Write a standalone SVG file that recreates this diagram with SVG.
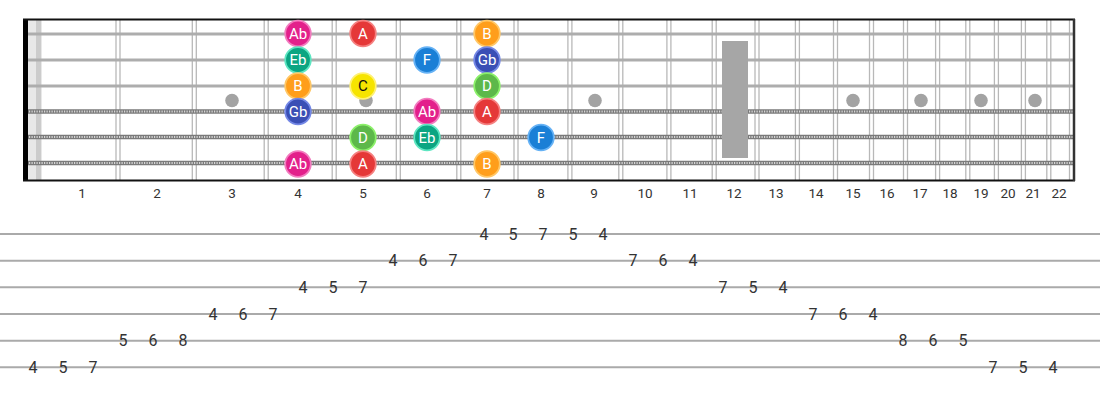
<svg xmlns="http://www.w3.org/2000/svg" width="1100" height="400" viewBox="0 0 1100 400">
<style>
.fret{stroke:#b8b8b8;stroke-width:1.3}
.plain{stroke:#adadad;stroke-width:3}
.woundA{stroke:#7a7a7a;stroke-width:4.5}
.woundB{stroke:#d6d6d6;stroke-width:2.2;stroke-dasharray:1.2 1.3}
.dot{fill:#a3a3a3}
.fn{font-family:Roboto,"Liberation Sans",sans-serif;font-size:13.5px;fill:#333;text-anchor:middle}
.tl{stroke:#aaa;stroke-width:2}
.tn{font-family:Roboto,"Liberation Sans",sans-serif;font-size:16px;fill:#333;text-anchor:middle}
.nt{font-family:Roboto,"Liberation Sans",sans-serif;font-size:15px;fill:#fff;text-anchor:middle}
.nt.dk{fill:#111}
.Ab{fill:#e3208b;stroke:#f27cbf}
.A{fill:#e53838;stroke:#f58080}
.Eb{fill:#0ba582;stroke:#5ee6c2}
.B{fill:#ff9e1b;stroke:#ffc766}
.Gb{fill:#3a4fb5;stroke:#7488e6}
.C{fill:#f6e400;stroke:#fff176}
.F{fill:#1a7fd6;stroke:#66b2f5}
.D{fill:#5db84a;stroke:#8cf06a}
.n{stroke-width:1.8}
</style>
<rect width="1100" height="400" fill="#fff"/>
<g id="fretboard">
<rect x="28" y="20" width="14" height="160" fill="#e8e8e8"/>
<rect x="36" y="20" width="5" height="160" fill="#cccccc"/>
<g id="frets">
<line class="fret" x1="116" y1="20" x2="116" y2="180"/><line class="fret" x1="120" y1="20" x2="120" y2="180"/>
<line class="fret" x1="192.3" y1="20" x2="192.3" y2="180"/><line class="fret" x1="196.3" y1="20" x2="196.3" y2="180"/>
<line class="fret" x1="264.2" y1="20" x2="264.2" y2="180"/><line class="fret" x1="268.2" y1="20" x2="268.2" y2="180"/>
<line class="fret" x1="332.2" y1="20" x2="332.2" y2="180"/><line class="fret" x1="336.2" y1="20" x2="336.2" y2="180"/>
<line class="fret" x1="396.3" y1="20" x2="396.3" y2="180"/><line class="fret" x1="400.3" y1="20" x2="400.3" y2="180"/>
<line class="fret" x1="456.8" y1="20" x2="456.8" y2="180"/><line class="fret" x1="460.8" y1="20" x2="460.8" y2="180"/>
<line class="fret" x1="514" y1="20" x2="514" y2="180"/><line class="fret" x1="518" y1="20" x2="518" y2="180"/>
<line class="fret" x1="567.9" y1="20" x2="567.9" y2="180"/><line class="fret" x1="571.9" y1="20" x2="571.9" y2="180"/>
<line class="fret" x1="618.8" y1="20" x2="618.8" y2="180"/><line class="fret" x1="622.8" y1="20" x2="622.8" y2="180"/>
<line class="fret" x1="666.9" y1="20" x2="666.9" y2="180"/><line class="fret" x1="670.9" y1="20" x2="670.9" y2="180"/>
<line class="fret" x1="712.2" y1="20" x2="712.2" y2="180"/><line class="fret" x1="716.2" y1="20" x2="716.2" y2="180"/>
<line class="fret" x1="755" y1="20" x2="755" y2="180"/><line class="fret" x1="759" y1="20" x2="759" y2="180"/>
<line class="fret" x1="795.4" y1="20" x2="795.4" y2="180"/><line class="fret" x1="799.4" y1="20" x2="799.4" y2="180"/>
<line class="fret" x1="833.5" y1="20" x2="833.5" y2="180"/><line class="fret" x1="837.5" y1="20" x2="837.5" y2="180"/>
<line class="fret" x1="869.5" y1="20" x2="869.5" y2="180"/><line class="fret" x1="873.5" y1="20" x2="873.5" y2="180"/>
<line class="fret" x1="903.5" y1="20" x2="903.5" y2="180"/><line class="fret" x1="907.5" y1="20" x2="907.5" y2="180"/>
<line class="fret" x1="935.6" y1="20" x2="935.6" y2="180"/><line class="fret" x1="939.6" y1="20" x2="939.6" y2="180"/>
<line class="fret" x1="965.8" y1="20" x2="965.8" y2="180"/><line class="fret" x1="969.8" y1="20" x2="969.8" y2="180"/>
<line class="fret" x1="994.4" y1="20" x2="994.4" y2="180"/><line class="fret" x1="998.4" y1="20" x2="998.4" y2="180"/>
<line class="fret" x1="1021.4" y1="20" x2="1021.4" y2="180"/><line class="fret" x1="1025.4" y1="20" x2="1025.4" y2="180"/>
<line class="fret" x1="1046.8" y1="20" x2="1046.8" y2="180"/><line class="fret" x1="1050.8" y1="20" x2="1050.8" y2="180"/>
<line class="fret" x1="1069.5" y1="20" x2="1069.5" y2="180"/>
</g>
<g id="inlays">
<circle class="dot" cx="232" cy="100.5" r="6.8"/>
<circle class="dot" cx="366" cy="100.5" r="6.8"/>
<circle class="dot" cx="595" cy="100.5" r="6.8"/>
<circle class="dot" cx="853" cy="100.5" r="6.8"/>
<circle class="dot" cx="921" cy="100.5" r="6.8"/>
<circle class="dot" cx="981" cy="100.5" r="6.8"/>
<circle class="dot" cx="1035" cy="100.5" r="6.8"/>
</g>
<g id="strings">
<line class="plain" x1="24" y1="34" x2="1074" y2="34"/>
<line class="plain" x1="24" y1="60" x2="1074" y2="60"/>
<line class="plain" x1="24" y1="86" x2="1074" y2="86"/>
<line class="woundA" x1="24" y1="111.5" x2="1074" y2="111.5"/>
<line class="woundB" x1="24" y1="111.5" x2="1074" y2="111.5"/>
<line class="woundA" x1="24" y1="137" x2="1074" y2="137"/>
<line class="woundB" x1="24" y1="137" x2="1074" y2="137"/>
<line class="woundA" x1="24" y1="163" x2="1074" y2="163"/>
<line class="woundB" x1="24" y1="163" x2="1074" y2="163"/>
</g>
<rect x="722" y="41" width="26" height="117" fill="#a6a6a6"/>
<rect x="23" y="19" width="5" height="162" fill="#000"/>
<line x1="23" y1="19.5" x2="1075" y2="19.5" stroke="#111" stroke-width="2"/>
<line x1="23" y1="180.5" x2="1075" y2="180.5" stroke="#111" stroke-width="2"/>
<line x1="1074" y1="19" x2="1074" y2="181" stroke="#333" stroke-width="2.5"/>
</g>
<g id="fret-numbers">
<text class="fn" x="82" y="198">1</text>
<text class="fn" x="157" y="198">2</text>
<text class="fn" x="232" y="198">3</text>
<text class="fn" x="298" y="198">4</text>
<text class="fn" x="363" y="198">5</text>
<text class="fn" x="427" y="198">6</text>
<text class="fn" x="487" y="198">7</text>
<text class="fn" x="541" y="198">8</text>
<text class="fn" x="594" y="198">9</text>
<text class="fn" x="645" y="198">10</text>
<text class="fn" x="690" y="198">11</text>
<text class="fn" x="734" y="198">12</text>
<text class="fn" x="776" y="198">13</text>
<text class="fn" x="816" y="198">14</text>
<text class="fn" x="853" y="198">15</text>
<text class="fn" x="887" y="198">16</text>
<text class="fn" x="920" y="198">17</text>
<text class="fn" x="950" y="198">18</text>
<text class="fn" x="981" y="198">19</text>
<text class="fn" x="1008" y="198">20</text>
<text class="fn" x="1033" y="198">21</text>
<text class="fn" x="1059" y="198">22</text>
</g>
<g id="notes">
<g id="n1-4"><circle class="n Ab" cx="298" cy="33.5" r="12.8"/><text class="nt" x="298" y="38.8">Ab</text></g>
<g id="n1-5"><circle class="n A" cx="363" cy="33.5" r="12.8"/><text class="nt" x="363" y="38.8">A</text></g>
<g id="n1-7"><circle class="n B" cx="487" cy="33.5" r="12.8"/><text class="nt" x="487" y="38.8">B</text></g>
<g id="n2-4"><circle class="n Eb" cx="298" cy="60" r="12.8"/><text class="nt" x="298" y="65.3">Eb</text></g>
<g id="n2-6"><circle class="n F" cx="427" cy="60" r="12.8"/><text class="nt" x="427" y="65.3">F</text></g>
<g id="n2-7"><circle class="n Gb" cx="487" cy="60" r="12.8"/><text class="nt" x="487" y="65.3">Gb</text></g>
<g id="n3-4"><circle class="n B" cx="298" cy="86" r="12.8"/><text class="nt" x="298" y="91.3">B</text></g>
<g id="n3-5"><circle class="n C" cx="363" cy="86" r="12.8"/><text class="nt dk" x="363" y="91.3">C</text></g>
<g id="n3-7"><circle class="n D" cx="487" cy="86" r="12.8"/><text class="nt" x="487" y="91.3">D</text></g>
<g id="n4-4"><circle class="n Gb" cx="298" cy="111.5" r="12.8"/><text class="nt" x="298" y="116.8">Gb</text></g>
<g id="n4-6"><circle class="n Ab" cx="427" cy="111.5" r="12.8"/><text class="nt" x="427" y="116.8">Ab</text></g>
<g id="n4-7"><circle class="n A" cx="487" cy="111.5" r="12.8"/><text class="nt" x="487" y="116.8">A</text></g>
<g id="n5-5"><circle class="n D" cx="363" cy="137.5" r="12.8"/><text class="nt" x="363" y="142.8">D</text></g>
<g id="n5-6"><circle class="n Eb" cx="427" cy="137.5" r="12.8"/><text class="nt" x="427" y="142.8">Eb</text></g>
<g id="n5-8"><circle class="n F" cx="541" cy="137.5" r="12.8"/><text class="nt" x="541" y="142.8">F</text></g>
<g id="n6-4"><circle class="n Ab" cx="298" cy="164" r="12.8"/><text class="nt" x="298" y="169.3">Ab</text></g>
<g id="n6-5"><circle class="n A" cx="363" cy="164" r="12.8"/><text class="nt" x="363" y="169.3">A</text></g>
<g id="n6-7"><circle class="n B" cx="487" cy="164" r="12.8"/><text class="nt" x="487" y="169.3">B</text></g>
</g>
<g id="tab-lines">
<line class="tl" x1="0" y1="234" x2="1100" y2="234"/>
<line class="tl" x1="0" y1="260.7" x2="1100" y2="260.7"/>
<line class="tl" x1="0" y1="287.3" x2="1100" y2="287.3"/>
<line class="tl" x1="0" y1="314" x2="1100" y2="314"/>
<line class="tl" x1="0" y1="340.7" x2="1100" y2="340.7"/>
<line class="tl" x1="0" y1="367.3" x2="1100" y2="367.3"/>
</g>
<g id="tab-numbers">
<text class="tn" x="484" y="239.7">4</text><text class="tn" x="513" y="239.7">5</text><text class="tn" x="543" y="239.7">7</text><text class="tn" x="573" y="239.7">5</text><text class="tn" x="603" y="239.7">4</text>
<text class="tn" x="393" y="266.4">4</text><text class="tn" x="423" y="266.4">6</text><text class="tn" x="453" y="266.4">7</text><text class="tn" x="633" y="266.4">7</text><text class="tn" x="663" y="266.4">6</text><text class="tn" x="693" y="266.4">4</text>
<text class="tn" x="303" y="293">4</text><text class="tn" x="333" y="293">5</text><text class="tn" x="363" y="293">7</text><text class="tn" x="723" y="293">7</text><text class="tn" x="753" y="293">5</text><text class="tn" x="783" y="293">4</text>
<text class="tn" x="213" y="319.7">4</text><text class="tn" x="243" y="319.7">6</text><text class="tn" x="273" y="319.7">7</text><text class="tn" x="813" y="319.7">7</text><text class="tn" x="843" y="319.7">6</text><text class="tn" x="873" y="319.7">4</text>
<text class="tn" x="123" y="346.4">5</text><text class="tn" x="153" y="346.4">6</text><text class="tn" x="183" y="346.4">8</text><text class="tn" x="903" y="346.4">8</text><text class="tn" x="933" y="346.4">6</text><text class="tn" x="963" y="346.4">5</text>
<text class="tn" x="33" y="373">4</text><text class="tn" x="63" y="373">5</text><text class="tn" x="93" y="373">7</text><text class="tn" x="993" y="373">7</text><text class="tn" x="1023" y="373">5</text><text class="tn" x="1053" y="373">4</text>
</g>
</svg>
